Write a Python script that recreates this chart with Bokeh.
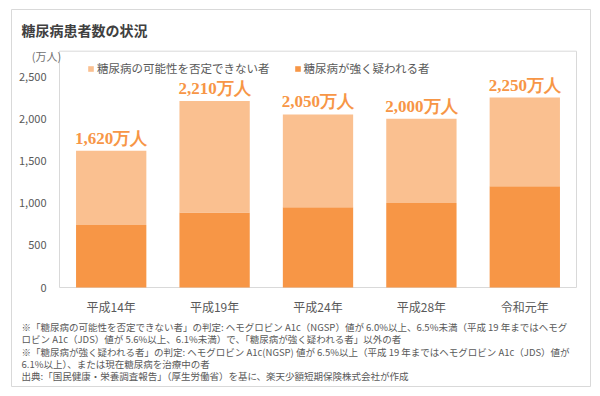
from bokeh.plotting import figure
from bokeh.models import (ColumnDataSource, Range1d, FixedTicker, NumeralTickFormatter,
                          Label, LabelSet, Legend, LegendItem)
from bokeh.embed import file_html
from bokeh.resources import INLINE

# ---- data ----
categories = ["平成14年", "平成19年", "平成24年", "平成28年", "令和元年"]
strong = [740, 890, 950, 1000, 1200]          # 糖尿病が強く疑われる者
possible = [880, 1320, 1100, 1000, 1050]      # 糖尿病の可能性を否定できない者
totals = [1620, 2210, 2050, 2000, 2250]
y_ticks = [0, 500, 1000, 1500, 2000, 2500]
y_max = 2800
series_names = ["糖尿病の可能性を否定できない者", "糖尿病が強く疑われる者"]
title_text = "糖尿病患者数の状況"
unit_text = "(万人)"
notes = [
    "※「糖尿病の可能性を否定できない者」の判定: ヘモグロビン A1c（NGSP）値が 6.0%以上、6.5%未満（平成 19 年まではヘモグ",
    "ロビン A1c（JDS）値が 5.6%以上、6.1%未満）で、「糖尿病が強く疑われる者」以外の者",
    " ※「糖尿病が強く疑われる者」の判定: ヘモグロビン A1c(NGSP) 値が 6.5%以上（平成 19 年まではヘモグロビン A1c（JDS）値が",
    "6.1%以上）、または現在糖尿病を治療中の者",
    "出典:「国民健康・栄養調査報告」（厚生労働省）を基に、楽天少額短期保険株式会社が作成",
]

FONT = "Noto Sans CJK JP"
DARK = "#F79646"
LIGHT = "#FAC090"
LABEL_C = "#F79646"
GRAY = "#595959"
BOX = "#d9d9d9"

xpos = [i + 0.5 for i in range(len(categories))]
source = ColumnDataSource(dict(
    x=xpos, strong=strong, possible=possible, total=totals,
    label=[f"{t:,}万人" for t in totals],
))

# frame = whole outer box; chart area 0..5 x 0..y_max inside it
p = figure(x_range=Range1d(-0.4642, 5.1354), y_range=Range1d(-1173, 3294),
           width=591, height=387, output_backend="svg", toolbar_location=None,
           min_border_left=11, min_border_top=9, min_border_right=1, min_border_bottom=1)
p.outline_line_color = BOX
p.xgrid.grid_line_color = None
p.ygrid.grid_line_color = None

# plot-area box
p.quad(left=[0], right=[len(categories)], bottom=[0], top=[y_max],
       fill_color=None, line_color=BOX, line_width=1)

r = p.vbar_stack(["strong", "possible"], x="x", width=0.68, color=[DARK, LIGHT],
                 line_color=None, source=source)

p.add_layout(LabelSet(x="x", y="total", text="label", source=source,
                      text_align="center", text_baseline="bottom", y_offset=3,
                      text_font=FONT, text_font_size="17px", text_font_style="bold",
                      text_color=LABEL_C))

legend = Legend(items=[LegendItem(label=series_names[0], renderers=[r[1]]),
                       LegendItem(label=series_names[1], renderers=[r[0]])],
                orientation="horizontal", location=(76, 310),
                glyph_width=7, glyph_height=7, label_standoff=3, spacing=24,
                padding=0, margin=0, border_line_color=None, background_fill_alpha=0,
                label_text_font=FONT, label_text_font_size="11.5px", label_text_color=GRAY)
p.add_layout(legend)

p.xaxis.fixed_location = 0
p.yaxis.fixed_location = 0
p.xaxis.ticker = FixedTicker(ticks=xpos)
p.xaxis.major_label_overrides = {x: c for x, c in zip(xpos, categories)}
p.yaxis.ticker = FixedTicker(ticks=y_ticks)
p.yaxis.formatter = NumeralTickFormatter(format="0,0")
for ax in (p.xaxis[0], p.yaxis[0]):
    ax.axis_line_color = None
    ax.major_tick_line_color = None
    ax.minor_tick_line_color = None
    ax.major_label_text_font = FONT
    ax.major_label_text_color = GRAY
p.yaxis.major_label_text_font_size = "11px"
p.xaxis.major_label_text_font_size = "12px"
p.yaxis.major_label_standoff = 7
p.xaxis.major_label_standoff = 4

p.add_layout(Label(x=10, y=357, x_units="screen", y_units="screen", text=title_text,
                   text_baseline="middle", text_font=FONT, text_font_size="14px",
                   text_font_style="bold", text_color="#404040"))
p.add_layout(Label(x=35, y=331, x_units="screen", y_units="screen", text=unit_text,
                   text_align="center", text_baseline="middle", text_font=FONT,
                   text_font_size="11px", text_color="#707070"))

note_y = [60, 47.5, 35, 23, 11]
for t, yy in zip(notes, note_y):
    p.add_layout(Label(x=10, y=yy, x_units="screen", y_units="screen", text=t,
                       text_baseline="middle", text_font=FONT, text_font_size="9.5px",
                       text_color=GRAY))

open("out.html", "w").write(file_html(p, INLINE))
